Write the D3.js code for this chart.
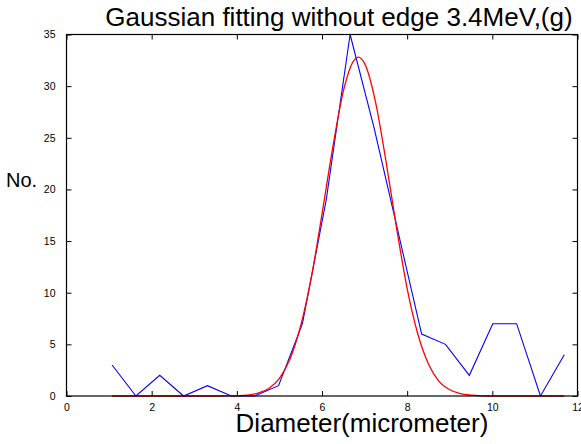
<!DOCTYPE html>
<html>
<head>
<meta charset="utf-8">
<script src="https://cdn.jsdelivr.net/npm/d3@7"></script>
<style>
    body { margin: 0; background: #fff; }
    svg { display: block; font-family: 'Liberation Sans', Arial, Helvetica, sans-serif; }
    .tick-lab { font-size: 10.5px; fill: #000; }
</style>
</head>
<body>
<div id="chart"></div>
<script>
// measured counts (blue)
const diameters = [1.07, 1.63, 2.19, 2.75, 3.31, 3.87, 4.42, 4.98, 5.54, 6.10,
    6.66, 7.22, 7.78, 8.34, 8.90, 9.46, 10.01, 10.57, 11.13, 11.69];
const counts = [3, 0, 2, 0, 1, 0, 0, 1, 7, 19, 35, 26, 16, 6, 5, 2, 7, 7, 0, 4];

// gaussian fit curve (red)
const fitX = [1.07, 3.5, 3.75, 4.0, 4.25, 4.5, 4.75, 5.0, 5.25, 5.5, 5.75, 6.0, 6.25, 6.5, 6.75,
    6.85, 7.0, 7.25, 7.5, 7.75, 8.0, 8.25, 8.5, 8.75, 9.0, 9.25, 9.5, 9.75, 10.0, 11.69];
const fitY = [0, 0, 0.01, 0.03, 0.09, 0.28, 0.72, 1.7, 3.6, 6.8, 11.5, 17.6, 24.0, 29.5, 32.5,
    32.8, 32.2, 28.6, 22.8, 16.3, 10.4, 6.0, 3.1, 1.4, 0.6, 0.22, 0.08, 0.02, 0, 0];

const xTicks = [0, 2, 4, 6, 8, 10, 12];
const yTicks = [0, 5, 10, 15, 20, 25, 30, 35];

const titleText = 'Gaussian fitting without edge 3.4MeV,(g)';
const xLabelText = 'Diameter(micrometer)';
const yLabelText = 'No.';

// SIZES
const WIDTH = 581, HEIGHT = 444;
const MARGIN = { top: 34.5, left: 66.5, right: 3.5, bottom: 48 };
const gW = WIDTH - MARGIN.left - MARGIN.right;
const gH = HEIGHT - MARGIN.top - MARGIN.bottom;
const TICK = 5;

const svg = d3.select('#chart').append('svg')
    .attr('width', WIDTH)
    .attr('height', HEIGHT);

const g = svg.append('g')
    .attr('transform', `translate(${MARGIN.left},${MARGIN.top})`);

// SCALES
const x = d3.scaleLinear().domain([0, 12]).range([0, gW]);
const y = d3.scaleLinear().domain([0, 35]).range([gH, 0]);

// AXES (matlab style: ticks inside, on all four sides)
const axisBottom = d3.axisBottom(x).tickValues(xTicks).tickSizeInner(-TICK).tickSizeOuter(0).tickPadding(8);
const axisTop = d3.axisTop(x).tickValues(xTicks).tickSizeInner(-TICK).tickSizeOuter(0).tickFormat('');
const axisLeft = d3.axisLeft(y).tickValues(yTicks).tickSizeInner(-TICK).tickSizeOuter(0).tickPadding(11);
const axisRight = d3.axisRight(y).tickValues(yTicks).tickSizeInner(-TICK).tickSizeOuter(0).tickFormat('');

const styleAxis = sel => {
    sel.select('.domain').remove();
    sel.selectAll('line').attr('stroke', '#000').attr('stroke-width', 1);
    sel.selectAll('text').attr('class', 'tick-lab').attr('font-family', null).attr('font-size', null);
};

g.append('g').attr('transform', `translate(0,${gH})`).call(axisBottom).call(styleAxis);
g.append('g').call(axisTop).call(styleAxis);
g.append('g').call(axisLeft).call(styleAxis);
g.append('g').attr('transform', `translate(${gW},0)`).call(axisRight).call(styleAxis);

// DATA LINES
const clip = g.append('clipPath').attr('id', 'plot-clip')
    .append('rect').attr('x', 0).attr('y', -1).attr('width', gW).attr('height', gH + 1);

const blueLine = d3.line()
    .x((d, i) => x(diameters[i]))
    .y(d => y(d));

g.append('path')
    .datum(counts)
    .attr('d', blueLine)
    .attr('fill', 'none')
    .attr('stroke', '#0000ff')
    .attr('stroke-width', 1.1);

const redLine = d3.line()
    .x((d, i) => x(fitX[i]))
    .y(d => y(d))
    .curve(d3.curveMonotoneX);

g.append('path')
    .datum(fitY)
    .attr('d', redLine)
    .attr('fill', 'none')
    .attr('stroke', '#ff0000')
    .attr('stroke-width', 1.3);

// BOX
g.append('rect')
    .attr('x', 0).attr('y', 0)
    .attr('width', gW).attr('height', gH)
    .attr('fill', 'none')
    .attr('stroke', '#000')
    .attr('stroke-width', 1.2);

// LABELS
svg.append('text')
    .attr('x', 339).attr('y', 26)
    .attr('text-anchor', 'middle')
    .attr('font-size', 26)
    .text(titleText);

svg.append('text')
    .attr('x', 362).attr('y', 432)
    .attr('text-anchor', 'middle')
    .attr('font-size', 26)
    .text(xLabelText);

svg.append('text')
    .attr('x', 6).attr('y', 187)
    .attr('font-size', 20)
    .text(yLabelText);
</script>
</body>
</html>
